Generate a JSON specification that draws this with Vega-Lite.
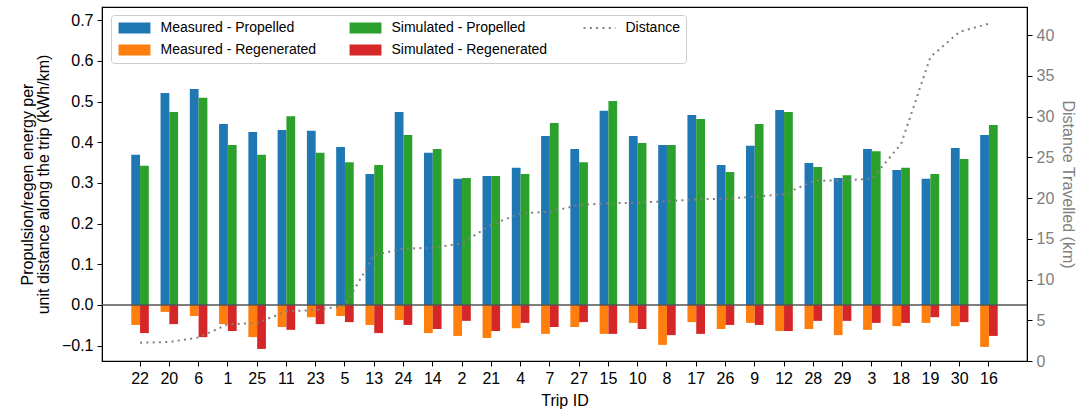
{
  "$schema": "https://vega.github.io/schema/vega-lite/v6.json",
  "width": 925,
  "height": 354,
  "autosize": {"type": "none"},
  "padding": {"left": 102, "top": 7, "right": 57, "bottom": 53},
  "background": "white",
  "config": {
    "font": "Liberation Sans",
    "view": {"stroke": "black", "strokeWidth": 1.2},
    "axis": {
      "labelFont": "Liberation Sans", "titleFont": "Liberation Sans",
      "labelFontSize": 16, "titleFontSize": 16, "titleFontWeight": "normal",
      "labelColor": "black", "titleColor": "black", "tickColor": "black", "domainColor": "black",
      "grid": false, "tickSize": 5, "labelPadding": 4
    }
  },
  "datasets": {
    "bars": [
      {"trip":"22","kind":"Measured","series":"Measured - Propelled","v":0.369},
      {"trip":"22","kind":"Simulated","series":"Simulated - Propelled","v":0.342},
      {"trip":"22","kind":"Measured","series":"Measured - Regenerated","v":-0.049},
      {"trip":"22","kind":"Simulated","series":"Simulated - Regenerated","v":-0.069},
      {"trip":"20","kind":"Measured","series":"Measured - Propelled","v":0.521},
      {"trip":"20","kind":"Simulated","series":"Simulated - Propelled","v":0.474},
      {"trip":"20","kind":"Measured","series":"Measured - Regenerated","v":-0.017},
      {"trip":"20","kind":"Simulated","series":"Simulated - Regenerated","v":-0.047},
      {"trip":"6","kind":"Measured","series":"Measured - Propelled","v":0.531},
      {"trip":"6","kind":"Simulated","series":"Simulated - Propelled","v":0.509},
      {"trip":"6","kind":"Measured","series":"Measured - Regenerated","v":-0.027},
      {"trip":"6","kind":"Simulated","series":"Simulated - Regenerated","v":-0.079},
      {"trip":"1","kind":"Measured","series":"Measured - Propelled","v":0.445},
      {"trip":"1","kind":"Simulated","series":"Simulated - Propelled","v":0.393},
      {"trip":"1","kind":"Measured","series":"Measured - Regenerated","v":-0.047},
      {"trip":"1","kind":"Simulated","series":"Simulated - Regenerated","v":-0.064},
      {"trip":"25","kind":"Measured","series":"Measured - Propelled","v":0.425},
      {"trip":"25","kind":"Simulated","series":"Simulated - Propelled","v":0.369},
      {"trip":"25","kind":"Measured","series":"Measured - Regenerated","v":-0.079},
      {"trip":"25","kind":"Simulated","series":"Simulated - Regenerated","v":-0.108},
      {"trip":"11","kind":"Measured","series":"Measured - Propelled","v":0.430},
      {"trip":"11","kind":"Simulated","series":"Simulated - Propelled","v":0.464},
      {"trip":"11","kind":"Measured","series":"Measured - Regenerated","v":-0.054},
      {"trip":"11","kind":"Simulated","series":"Simulated - Regenerated","v":-0.061},
      {"trip":"23","kind":"Measured","series":"Measured - Propelled","v":0.428},
      {"trip":"23","kind":"Simulated","series":"Simulated - Propelled","v":0.374},
      {"trip":"23","kind":"Measured","series":"Measured - Regenerated","v":-0.030},
      {"trip":"23","kind":"Simulated","series":"Simulated - Regenerated","v":-0.047},
      {"trip":"5","kind":"Measured","series":"Measured - Propelled","v":0.388},
      {"trip":"5","kind":"Simulated","series":"Simulated - Propelled","v":0.351},
      {"trip":"5","kind":"Measured","series":"Measured - Regenerated","v":-0.027},
      {"trip":"5","kind":"Simulated","series":"Simulated - Regenerated","v":-0.042},
      {"trip":"13","kind":"Measured","series":"Measured - Propelled","v":0.322},
      {"trip":"13","kind":"Simulated","series":"Simulated - Propelled","v":0.344},
      {"trip":"13","kind":"Measured","series":"Measured - Regenerated","v":-0.049},
      {"trip":"13","kind":"Simulated","series":"Simulated - Regenerated","v":-0.069},
      {"trip":"24","kind":"Measured","series":"Measured - Propelled","v":0.474},
      {"trip":"24","kind":"Simulated","series":"Simulated - Propelled","v":0.418},
      {"trip":"24","kind":"Measured","series":"Measured - Regenerated","v":-0.037},
      {"trip":"24","kind":"Simulated","series":"Simulated - Regenerated","v":-0.049},
      {"trip":"14","kind":"Measured","series":"Measured - Propelled","v":0.374},
      {"trip":"14","kind":"Simulated","series":"Simulated - Propelled","v":0.383},
      {"trip":"14","kind":"Measured","series":"Measured - Regenerated","v":-0.069},
      {"trip":"14","kind":"Simulated","series":"Simulated - Regenerated","v":-0.059},
      {"trip":"2","kind":"Measured","series":"Measured - Propelled","v":0.310},
      {"trip":"2","kind":"Simulated","series":"Simulated - Propelled","v":0.312},
      {"trip":"2","kind":"Measured","series":"Measured - Regenerated","v":-0.076},
      {"trip":"2","kind":"Simulated","series":"Simulated - Regenerated","v":-0.039},
      {"trip":"21","kind":"Measured","series":"Measured - Propelled","v":0.317},
      {"trip":"21","kind":"Simulated","series":"Simulated - Propelled","v":0.317},
      {"trip":"21","kind":"Measured","series":"Measured - Regenerated","v":-0.081},
      {"trip":"21","kind":"Simulated","series":"Simulated - Regenerated","v":-0.064},
      {"trip":"4","kind":"Measured","series":"Measured - Propelled","v":0.337},
      {"trip":"4","kind":"Simulated","series":"Simulated - Propelled","v":0.322},
      {"trip":"4","kind":"Measured","series":"Measured - Regenerated","v":-0.057},
      {"trip":"4","kind":"Simulated","series":"Simulated - Regenerated","v":-0.044},
      {"trip":"7","kind":"Measured","series":"Measured - Propelled","v":0.415},
      {"trip":"7","kind":"Simulated","series":"Simulated - Propelled","v":0.447},
      {"trip":"7","kind":"Measured","series":"Measured - Regenerated","v":-0.071},
      {"trip":"7","kind":"Simulated","series":"Simulated - Regenerated","v":-0.054},
      {"trip":"27","kind":"Measured","series":"Measured - Propelled","v":0.383},
      {"trip":"27","kind":"Simulated","series":"Simulated - Propelled","v":0.351},
      {"trip":"27","kind":"Measured","series":"Measured - Regenerated","v":-0.054},
      {"trip":"27","kind":"Simulated","series":"Simulated - Regenerated","v":-0.042},
      {"trip":"15","kind":"Measured","series":"Measured - Propelled","v":0.477},
      {"trip":"15","kind":"Simulated","series":"Simulated - Propelled","v":0.501},
      {"trip":"15","kind":"Measured","series":"Measured - Regenerated","v":-0.071},
      {"trip":"15","kind":"Simulated","series":"Simulated - Regenerated","v":-0.071},
      {"trip":"10","kind":"Measured","series":"Measured - Propelled","v":0.415},
      {"trip":"10","kind":"Simulated","series":"Simulated - Propelled","v":0.398},
      {"trip":"10","kind":"Measured","series":"Measured - Regenerated","v":-0.044},
      {"trip":"10","kind":"Simulated","series":"Simulated - Regenerated","v":-0.059},
      {"trip":"8","kind":"Measured","series":"Measured - Propelled","v":0.393},
      {"trip":"8","kind":"Simulated","series":"Simulated - Propelled","v":0.393},
      {"trip":"8","kind":"Measured","series":"Measured - Regenerated","v":-0.098},
      {"trip":"8","kind":"Simulated","series":"Simulated - Regenerated","v":-0.074},
      {"trip":"17","kind":"Measured","series":"Measured - Propelled","v":0.467},
      {"trip":"17","kind":"Simulated","series":"Simulated - Propelled","v":0.457},
      {"trip":"17","kind":"Measured","series":"Measured - Regenerated","v":-0.042},
      {"trip":"17","kind":"Simulated","series":"Simulated - Regenerated","v":-0.071},
      {"trip":"26","kind":"Measured","series":"Measured - Propelled","v":0.344},
      {"trip":"26","kind":"Simulated","series":"Simulated - Propelled","v":0.327},
      {"trip":"26","kind":"Measured","series":"Measured - Regenerated","v":-0.059},
      {"trip":"26","kind":"Simulated","series":"Simulated - Regenerated","v":-0.049},
      {"trip":"9","kind":"Measured","series":"Measured - Propelled","v":0.391},
      {"trip":"9","kind":"Simulated","series":"Simulated - Propelled","v":0.445},
      {"trip":"9","kind":"Measured","series":"Measured - Regenerated","v":-0.044},
      {"trip":"9","kind":"Simulated","series":"Simulated - Regenerated","v":-0.049},
      {"trip":"12","kind":"Measured","series":"Measured - Propelled","v":0.479},
      {"trip":"12","kind":"Simulated","series":"Simulated - Propelled","v":0.474},
      {"trip":"12","kind":"Measured","series":"Measured - Regenerated","v":-0.064},
      {"trip":"12","kind":"Simulated","series":"Simulated - Regenerated","v":-0.064},
      {"trip":"28","kind":"Measured","series":"Measured - Propelled","v":0.349},
      {"trip":"28","kind":"Simulated","series":"Simulated - Propelled","v":0.339},
      {"trip":"28","kind":"Measured","series":"Measured - Regenerated","v":-0.059},
      {"trip":"28","kind":"Simulated","series":"Simulated - Regenerated","v":-0.039},
      {"trip":"29","kind":"Measured","series":"Measured - Propelled","v":0.312},
      {"trip":"29","kind":"Simulated","series":"Simulated - Propelled","v":0.319},
      {"trip":"29","kind":"Measured","series":"Measured - Regenerated","v":-0.074},
      {"trip":"29","kind":"Simulated","series":"Simulated - Regenerated","v":-0.039},
      {"trip":"3","kind":"Measured","series":"Measured - Propelled","v":0.383},
      {"trip":"3","kind":"Simulated","series":"Simulated - Propelled","v":0.378},
      {"trip":"3","kind":"Measured","series":"Measured - Regenerated","v":-0.061},
      {"trip":"3","kind":"Simulated","series":"Simulated - Regenerated","v":-0.044},
      {"trip":"18","kind":"Measured","series":"Measured - Propelled","v":0.332},
      {"trip":"18","kind":"Simulated","series":"Simulated - Propelled","v":0.337},
      {"trip":"18","kind":"Measured","series":"Measured - Regenerated","v":-0.052},
      {"trip":"18","kind":"Simulated","series":"Simulated - Regenerated","v":-0.044},
      {"trip":"19","kind":"Measured","series":"Measured - Propelled","v":0.310},
      {"trip":"19","kind":"Simulated","series":"Simulated - Propelled","v":0.322},
      {"trip":"19","kind":"Measured","series":"Measured - Regenerated","v":-0.044},
      {"trip":"19","kind":"Simulated","series":"Simulated - Regenerated","v":-0.030},
      {"trip":"30","kind":"Measured","series":"Measured - Propelled","v":0.386},
      {"trip":"30","kind":"Simulated","series":"Simulated - Propelled","v":0.359},
      {"trip":"30","kind":"Measured","series":"Measured - Regenerated","v":-0.052},
      {"trip":"30","kind":"Simulated","series":"Simulated - Regenerated","v":-0.042},
      {"trip":"16","kind":"Measured","series":"Measured - Propelled","v":0.418},
      {"trip":"16","kind":"Simulated","series":"Simulated - Propelled","v":0.442},
      {"trip":"16","kind":"Measured","series":"Measured - Regenerated","v":-0.103},
      {"trip":"16","kind":"Simulated","series":"Simulated - Regenerated","v":-0.076}
    ],
    "distance": [
      {"trip":"22","km":2.25},{"trip":"20","km":2.33},{"trip":"6","km":2.9},{"trip":"1","km":4.5},
      {"trip":"25","km":4.66},{"trip":"11","km":6.1},{"trip":"23","km":6.26},{"trip":"5","km":6.79},
      {"trip":"13","km":13.0},{"trip":"24","km":13.78},{"trip":"14","km":13.9},{"trip":"2","km":14.44},
      {"trip":"21","km":16.73},{"trip":"4","km":18.12},{"trip":"7","km":18.32},{"trip":"27","km":19.14},
      {"trip":"15","km":19.35},{"trip":"10","km":19.43},{"trip":"8","km":19.6},{"trip":"17","km":19.84},
      {"trip":"26","km":19.92},{"trip":"9","km":20.16},{"trip":"12","km":20.45},{"trip":"28","km":22.09},
      {"trip":"29","km":22.2},{"trip":"3","km":22.33},{"trip":"18","km":26.65},{"trip":"19","km":37.3},
      {"trip":"30","km":40.4},{"trip":"16","km":41.4}
    ]
  },
  "layer": [
    {
      "layer": [
        {
          "data": {"name": "bars"},
          "mark": {"type": "bar"},
          "encoding": {
            "x": {
              "field": "trip", "type": "nominal",
              "scale": {"domain": ["22","20","6","1","25","11","23","5","13","24","14","2","21","4","7","27","15","10","8","17","26","9","12","28","29","3","18","19","30","16"], "paddingInner": 0.4, "paddingOuter": 1.5},
              "axis": {"labelAngle": 0, "title": "Trip ID", "titlePadding": 6}
            },
            "xOffset": {"field": "kind", "type": "nominal", "scale": {"domain": ["Measured", "Simulated"], "paddingInner": 0, "paddingOuter": 0}},
            "y": {
              "field": "v", "type": "quantitative", "stack": null,
              "scale": {"domain": [-0.1376, 0.7322], "nice": false, "zero": false},
              "axis": {"values": [-0.1, 0, 0.1, 0.2, 0.3, 0.4, 0.5, 0.6, 0.7], "format": ".1f", "title": ["Propulsion/regen energy per", "unit distance along the trip (kWh/km)"], "titleLineHeight": 16, "titlePadding": 10}
            },
            "color": {
              "field": "series", "type": "nominal",
              "scale": {
                "domain": ["Measured - Propelled", "Measured - Regenerated", "Simulated - Propelled", "Simulated - Regenerated", "Distance"],
                "range": ["#1f77b4", "#ff7f0e", "#2ca02c", "#d62728", "#808080"]
              },
              "legend": {
                "title": null, "orient": "none", "legendX": 9, "legendY": 8,
                "columns": 3, "columnPadding": 31, "rowPadding": 8,
                "symbolType": {"expr": "datum.value === 'Distance' ? 'M-2.9,0H2.9' : 'M-2.9,-1H2.9V1H-2.9Z'"},
                "symbolStrokeWidth": {"expr": "datum.value === 'Distance' ? 2 : 0"},
                "symbolStrokeColor": "#808080",
                "symbolDash": [2, 4.3],
                "symbolSize": 121,
                "symbolOffset": 10.5, "labelOffset": 19,
                "labelFont": "Liberation Sans", "labelFontSize": 14, "labelColor": "black",
                "padding": 6, "fillColor": "white", "strokeColor": "#cccccc", "cornerRadius": 3
              }
            }
          }
        },
        {
          "data": {"values": [{}]},
          "mark": {"type": "rule", "color": "#555555", "strokeWidth": 1.3},
          "encoding": {"y": {"datum": 0}}
        }
      ]
    },
    {
      "data": {"name": "distance"},
      "mark": {"type": "line", "strokeDash": [2, 4.3], "strokeWidth": 2},
      "encoding": {
        "x": {"field": "trip", "type": "nominal"},
        "y": {
          "field": "km", "type": "quantitative",
          "scale": {"domain": [0, 43.44], "nice": false, "zero": false},
          "axis": {"orient": "right", "values": [0, 5, 10, 15, 20, 25, 30, 35, 40], "title": "Distance Travelled (km)", "labelColor": "#808080", "titleColor": "#808080", "titlePadding": 6}
        },
        "color": {"datum": "Distance", "type": "nominal"}
      }
    }
  ],
  "resolve": {"scale": {"y": "independent"}}
}
